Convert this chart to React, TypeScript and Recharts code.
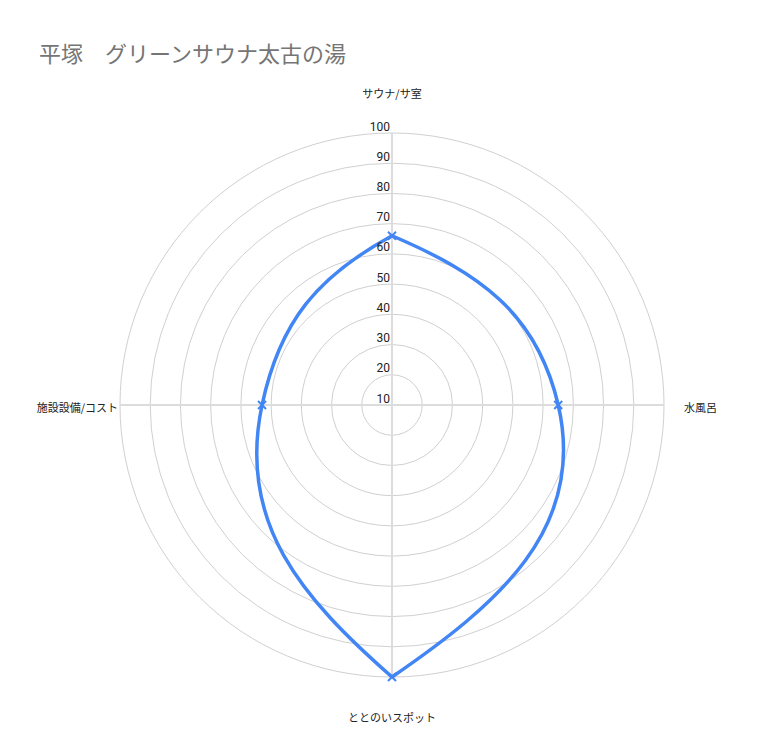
import React from 'react';
import { RadarChart, Radar, PolarGrid, PolarAngleAxis, PolarRadiusAxis } from 'recharts';

const categories = ['サウナ/サ室', '水風呂', 'ととのいスポット', '施設設備/コスト'];
const scores = [66, 65, 100, 53];
const radiusTicks = [10, 20, 30, 40, 50, 60, 70, 80, 90, 100];

const data = categories.map((name, i) => ({ name, score: scores[i] }));

const CX = 392;
const CY = 405;
const BLUE = '#4285F4';

type P = { x: number; y: number };

const unit = (x: number, y: number): P => {
  const l = Math.hypot(x, y) || 1;
  return { x: x / l, y: y / l };
};

// smooth closed curve; corners kept where the path turns back vertically
function smoothClosedPath(pts: P[]): string {
  const n = pts.length;
  if (n < 2) return '';
  const K = 0.42;
  const ARM = 0.4;
  const tIn: P[] = [];
  const tOut: P[] = [];
  for (let i = 0; i < n; i++) {
    const a = pts[(i - 1 + n) % n];
    const b = pts[i];
    const c = pts[(i + 1) % n];
    const h0 = b.y - a.y;
    const h1 = c.y - b.y;
    if (h0 * h1 > 0) {
      const d0 = Math.hypot(b.x - a.x, h0) || 1;
      const d1 = Math.hypot(c.x - b.x, h1) || 1;
      const t = unit((b.x - a.x) * (d1 / d0) + (c.x - b.x) * (d0 / d1), h0 * (d1 / d0) + h1 * (d0 / d1));
      tIn[i] = t;
      tOut[i] = t;
    } else {
      tIn[i] = unit(b.x - a.x, K * h0);
      tOut[i] = unit(c.x - b.x, K * h1);
    }
  }
  let d = `M${pts[0].x},${pts[0].y}`;
  for (let i = 0; i < n; i++) {
    const j = (i + 1) % n;
    const a = pts[i];
    const b = pts[j];
    const L = ARM * Math.hypot(b.x - a.x, b.y - a.y);
    const c1 = { x: a.x + L * tOut[i].x, y: a.y + L * tOut[i].y };
    const c2 = { x: b.x - L * tIn[j].x, y: b.y - L * tIn[j].y };
    d += `C${c1.x},${c1.y},${c2.x},${c2.y},${b.x},${b.y}`;
  }
  return d + 'Z';
}

const RadarShape = (props: any) => {
  const pts: P[] = props.points || [];
  return (
    <g>
      <path d={smoothClosedPath(pts)} fill="none" stroke={BLUE} strokeWidth={3.5} strokeLinejoin="round" />
      {pts.map((p, i) => (
        <path
          key={i}
          d={`M${p.x - 4},${p.y - 4}L${p.x + 4},${p.y + 4}M${p.x + 4},${p.y - 4}L${p.x - 4},${p.y + 4}`}
          stroke={BLUE}
          strokeWidth={2}
        />
      ))}
    </g>
  );
};

const AngleTick = (props: any) => {
  const { x, y, payload } = props;
  let dx = 0;
  let dy = 0;
  let anchor: 'start' | 'middle' | 'end' = 'middle';
  if (Math.abs(x - CX) < 1) {
    dy = y < CY ? -27 : 37;
  } else if (x > CX) {
    anchor = 'start';
    dx = 12;
    dy = 7;
  } else {
    anchor = 'end';
    dx = 6;
    dy = 7;
  }
  return (
    <text x={x + dx} y={y + dy} textAnchor={anchor} fontSize={11} fill="#222" fontFamily="'Noto Sans CJK JP', sans-serif">
      {payload.value}
    </text>
  );
};

const RadiusTick = (props: any) => {
  const { x, y, payload } = props;
  return (
    <text x={x - 2} y={y - 2.5} textAnchor="end" fontSize={12} fill="#222" fontFamily="Roboto, sans-serif">
      {payload.value}
    </text>
  );
};

export default function App() {
  return (
    <div style={{ position: 'absolute', left: 0, top: 0, width: 784, height: 756, background: '#fff' }}>
      <div
        style={{
          position: 'absolute',
          left: 39,
          top: 38,
          fontSize: 22,
          lineHeight: '28px',
          color: '#757575',
          whiteSpace: 'pre',
          fontFamily: "'Noto Sans CJK JP', sans-serif",
        }}
      >
        平塚　グリーンサウナ太古の湯
      </div>
      <RadarChart width={784} height={756} data={data} cx={CX} cy={CY} outerRadius={272} startAngle={90} endAngle={-270}>
        <PolarGrid gridType="circle" radialLines={false} stroke="#d0d0d0" strokeWidth={1} />
        <PolarGrid gridType="circle" polarRadius={[]} stroke="#dcdcdc" strokeWidth={2} />
        <PolarAngleAxis dataKey="name" tick={<AngleTick />} axisLine={false} tickLine={false} />
        <PolarRadiusAxis
          angle={90}
          domain={[10, 100]}
          ticks={radiusTicks as any}
          tickCount={radiusTicks.length}
          axisLine={false}
          tick={<RadiusTick />}
        />
        <Radar dataKey="score" stroke={BLUE} fill="none" dot={false} shape={<RadarShape />} isAnimationActive={false} />
      </RadarChart>
    </div>
  );
}
